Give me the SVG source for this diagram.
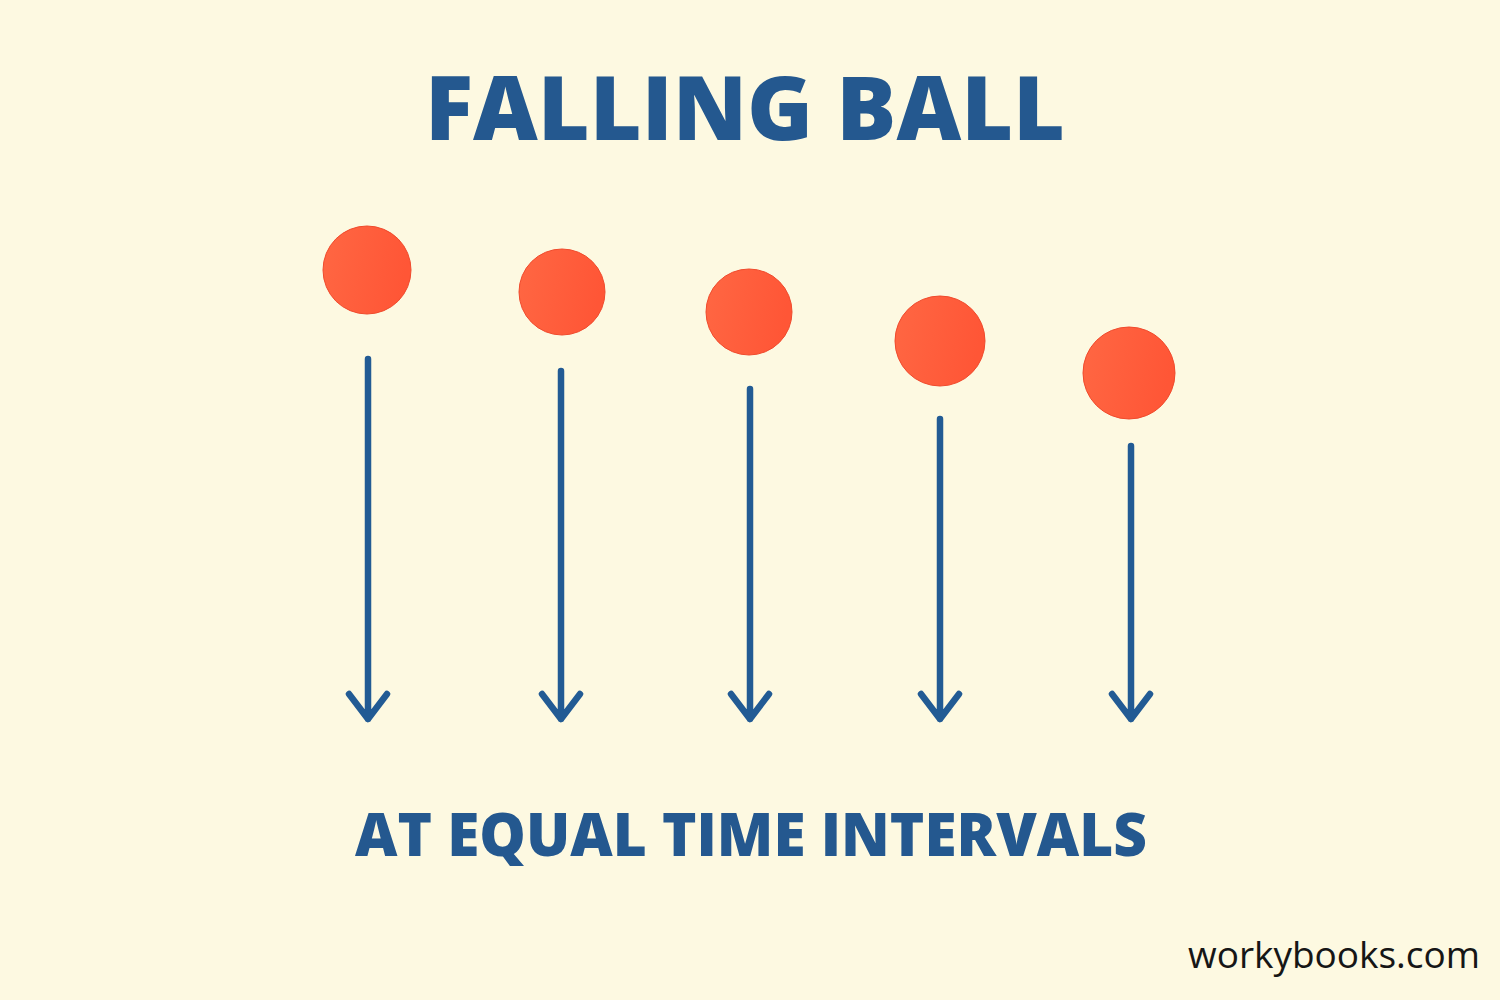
<svg xmlns="http://www.w3.org/2000/svg" width="1500" height="1000" viewBox="0 0 1500 1000">
<defs>
<linearGradient id="ballGrad" x1="0" y1="0" x2="1" y2="0.2">
<stop offset="0" stop-color="#FF6743"/>
<stop offset="1" stop-color="#FF5636"/>
</linearGradient>
<style>
.ball{fill:url(#ballGrad);stroke:#F04A2C;stroke-width:1}
.arrow{fill:none;stroke:#225B94;stroke-width:6.5;stroke-linecap:round;stroke-linejoin:round}
.title{font-family:"Open Sans","Liberation Sans",sans-serif;font-weight:800;fill:#24588F}
.credit{font-family:"Open Sans","Liberation Sans",sans-serif;font-size:36px;fill:#161616}
</style>
</defs>
<rect width="1500" height="1000" fill="#FDF9E1"/>
<g id="title"><text class="title" x="425" y="140" font-size="88" textLength="640" lengthAdjust="spacingAndGlyphs">FALLING BALL</text></g>
<g id="ball1"><circle class="ball" cx="367" cy="270" r="44"/></g>
<g id="ball2"><circle class="ball" cx="562" cy="292" r="43"/></g>
<g id="ball3"><circle class="ball" cx="749" cy="312" r="43"/></g>
<g id="ball4"><circle class="ball" cx="940" cy="341" r="45"/></g>
<g id="ball5"><circle class="ball" cx="1129" cy="373" r="46"/></g>
<g id="connectors">
<path class="arrow" d="M368 359V719M349 694L368 719L387 694"/>
<path class="arrow" d="M561 371V719M542 694L561 719L580 694"/>
<path class="arrow" d="M750 389V719M731 694L750 719L769 694"/>
<path class="arrow" d="M940 419V719M921 694L940 719L959 694"/>
<path class="arrow" d="M1131 446V719M1112 694L1131 719L1150 694"/>
</g>
<g id="subtitle"><text class="title" x="355" y="856" font-size="60" textLength="792" lengthAdjust="spacingAndGlyphs">AT EQUAL TIME INTERVALS</text></g>
<g id="credit"><text class="credit" x="1188" y="968" textLength="292" lengthAdjust="spacingAndGlyphs">workybooks.com</text></g>
</svg>
